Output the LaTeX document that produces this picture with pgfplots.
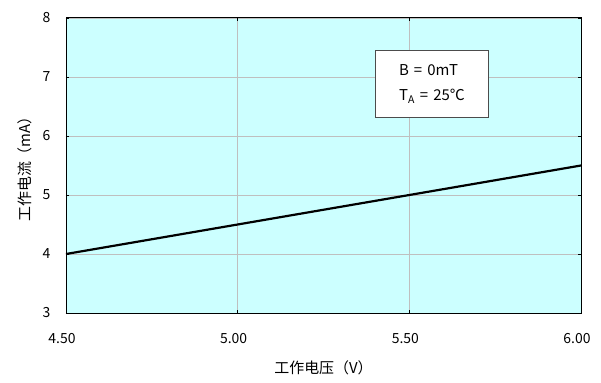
\documentclass[border=0pt]{standalone}
\usepackage{pgfplots}
\pgfplotsset{compat=1.18}
\usepackage{fontspec}
\setmainfont{Noto Sans CJK SC}
\definecolor{bgc}{HTML}{CCFFFF}
\definecolor{gridc}{HTML}{BFBFBF}
\begin{document}
\begin{tikzpicture}
\fill[white] (-66bp,-70bp) rectangle (535bp,313bp);
\begin{axis}[
  at={(0,0)}, anchor=south west,
  scale only axis,
  width=515bp, height=295bp,
  xmin=4.5, xmax=6.0, ymin=3, ymax=8,
  xtick={4.5,5.0,5.5,6.0},
  xticklabels={4.50,5.00,5.50,6.00},
  ytick={3,4,5,6,7,8},
  grid=major,
  major grid style={gridc, line width=0.8pt},
  axis background/.style={fill=bgc},
  axis line style={black, line width=1pt},
  tick style={black, line width=0.6pt},
  tick align=inside,
  major tick length=3bp,
  /pgf/number format/assume math mode=true,
  tick label style={font=\fontsize{14}{16}\selectfont},
  xticklabel style={yshift=-17bp, xshift=-4bp},
  yticklabel style={xshift=-12bp},
  xlabel={工作电压（V）},
  ylabel={工作电流（mA）},
  label style={font=\fontsize{15}{17}\selectfont},
  xlabel style={yshift=-10bp},
  ylabel style={yshift=4bp},
  clip=false,
]
\addplot[black, line width=2.2pt] coordinates {(4.5,4.0) (6.0,5.5)};
\node[draw=black!70, fill=white, line width=1pt, anchor=north west, inner sep=4bp, align=left,
      font=\fontsize{15}{26}\selectfont, minimum width=113bp, minimum height=67bp]
  at (axis cs:5.40,7.46) {B\,\,=\,\,0mT\\T$_\mathrm{A}$\,\,=\,\,25℃};
\end{axis}
\end{tikzpicture}
\end{document}
